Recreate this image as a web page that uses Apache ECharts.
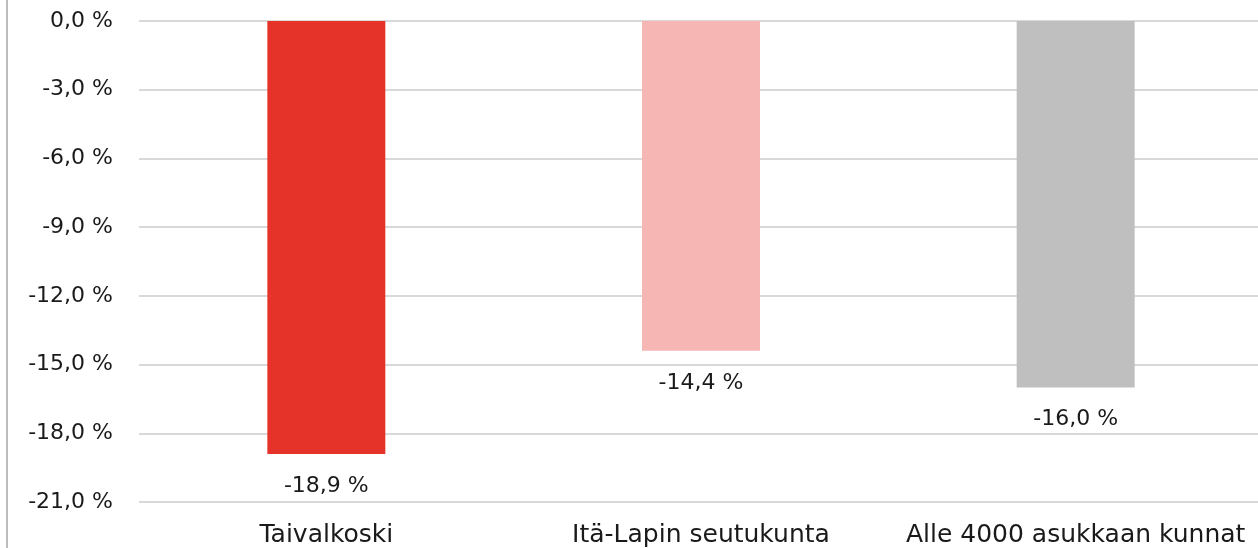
<!DOCTYPE html>
<html>
<head>
<meta charset="utf-8">
<style>
  html, body { margin: 0; padding: 0; background: #fff; overflow: hidden; }
  #chart { width: 1263px; height: 548px; }
</style>
<script src="https://cdn.jsdelivr.net/npm/echarts@6/dist/echarts.min.js"></script>
</head>
<body>
<div id="chart"></div>
<script>
const categories = ['Taivalkoski', 'Itä-Lapin seutukunta', 'Alle 4000 asukkaan kunnat']
const values = [-18.9, -14.4, -16.0]
const barColors = ['#E5332A', '#F5B6B4', '#BFBFBF']

const fontFamily = '"DejaVu Sans", sans-serif'
const fmt = v => v.toFixed(1).replace('.', ',') + ' %'

const chart = echarts.init(document.getElementById('chart'))

chart.setOption({
  backgroundColor: '#fff',
  animation: false,
  // plot runs a few px past the right edge of the window, as in the original
  grid: { left: 139, right: 0, top: 21, bottom: 46 },
  graphic: [{
    type: 'line',
    shape: { x1: 7, y1: 0, x2: 7, y2: 548 },
    style: { stroke: '#A6A6A6', lineWidth: 1.5 },
  }],
  xAxis: {
    type: 'category',
    data: categories,
    position: 'bottom',
    axisLine: { show: false },
    axisTick: { show: false },
    axisLabel: { color: '#1a1a1a', fontSize: 25, fontFamily, margin: 21, interval: 0 },
  },
  yAxis: {
    type: 'value',
    min: -21,
    max: 0,
    interval: 3,
    axisLine: { show: false },
    axisTick: { show: false },
    axisLabel: {
      color: '#1a1a1a',
      fontSize: 22,
      fontFamily,
      margin: 26,
      formatter: v => fmt(v),
    },
    splitLine: { lineStyle: { color: '#D9D9D9', width: 2 } },
  },
  series: [{
    type: 'bar',
    data: values.map((v, i) => ({ value: v, itemStyle: { color: barColors[i] } })),
    barWidth: 118,
    label: {
      show: true,
      position: 'bottom',
      distance: 21,
      color: '#1a1a1a',
      fontSize: 22,
      fontFamily,
      formatter: p => fmt(p.value),
    },
  }],
})
</script>
</body>
</html>
